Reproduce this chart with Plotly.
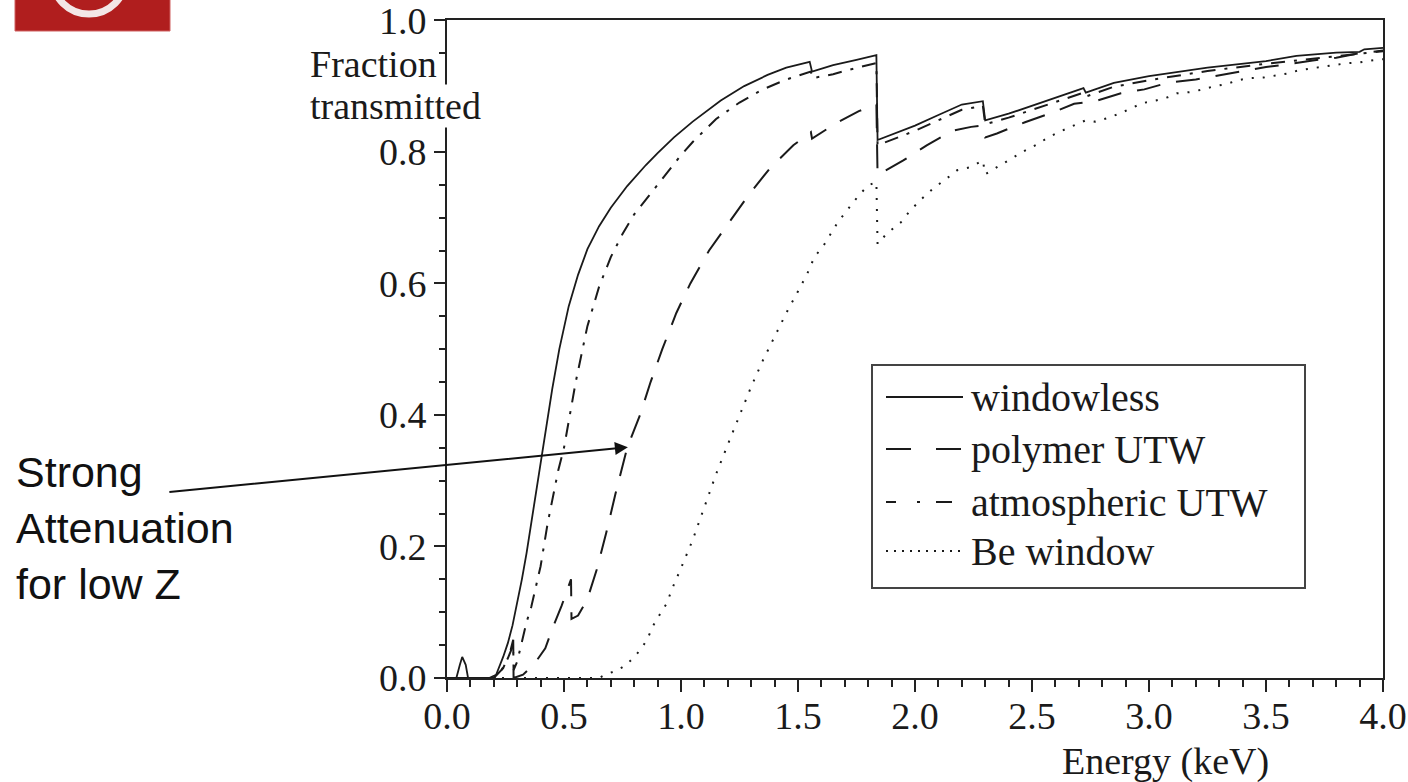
import plotly.graph_objects as go

# ---------------- data ----------------
wl_E = [0.0, 0.04, 0.055, 0.065, 0.08, 0.09, 0.18, 0.21, 0.24, 0.26, 0.28, 0.30, 0.32, 0.34, 0.36,
        0.38, 0.40, 0.42, 0.45, 0.48, 0.52, 0.56, 0.60, 0.65, 0.70, 0.77, 0.85, 0.90, 0.97, 1.05,
        1.17, 1.27, 1.37, 1.45, 1.55, 1.56, 1.65, 1.75, 1.835, 1.84, 1.90, 2.00, 2.10, 2.20, 2.29,
        2.30, 2.40, 2.50, 2.60, 2.72, 2.73, 2.85, 3.00, 3.25, 3.50, 3.63, 3.80, 3.90, 3.92, 4.00]
wl_T = [0.0, 0.0, 0.02, 0.032, 0.02, 0.0, 0.0, 0.005, 0.032, 0.053, 0.08, 0.113, 0.15, 0.19, 0.235,
        0.28, 0.33, 0.37, 0.44, 0.50, 0.565, 0.613, 0.652, 0.687, 0.715, 0.748, 0.78, 0.798, 0.822, 0.846,
        0.878, 0.900, 0.917, 0.928, 0.937, 0.922, 0.932, 0.94, 0.947, 0.818, 0.826, 0.840, 0.856, 0.872, 0.877,
        0.848, 0.858, 0.870, 0.882, 0.897, 0.89, 0.905, 0.915, 0.928, 0.938, 0.946, 0.951, 0.952, 0.956, 0.958]

po_E = [0.0, 0.20, 0.24, 0.27, 0.283, 0.2845, 0.325, 0.37, 0.42, 0.45, 0.49, 0.53, 0.532, 0.56, 0.60,
        0.64, 0.68, 0.72, 0.77, 0.825, 0.87, 0.92, 0.98, 1.04, 1.12, 1.22, 1.29, 1.38, 1.48, 1.555,
        1.56, 1.66, 1.76, 1.835, 1.84, 1.95, 2.05, 2.16, 2.24, 2.29, 2.30, 2.35, 2.47, 2.59, 2.68,
        2.77, 2.88, 2.98, 3.08, 3.20, 3.29, 3.38, 3.50, 3.59, 3.70, 3.80, 3.90, 4.00]
po_T = [0.0, 0.0, 0.015, 0.04, 0.058, 0.0, 0.005, 0.02, 0.045, 0.075, 0.11, 0.15, 0.09, 0.095, 0.12,
        0.165, 0.22, 0.28, 0.35, 0.40, 0.45, 0.50, 0.555, 0.60, 0.65, 0.70, 0.735, 0.775, 0.81, 0.83,
        0.82, 0.843, 0.862, 0.872, 0.765, 0.787, 0.81, 0.832, 0.838, 0.84, 0.822, 0.828, 0.845, 0.86, 0.873,
        0.877, 0.889, 0.895, 0.905, 0.91, 0.916, 0.921, 0.929, 0.933, 0.939, 0.943, 0.95, 0.954]

at_E = [0.0, 0.20, 0.23, 0.26, 0.283, 0.2845, 0.30, 0.32, 0.34, 0.36, 0.38, 0.40, 0.43, 0.475, 0.50,
        0.55, 0.60, 0.65, 0.70, 0.75, 0.80, 0.90, 1.00, 1.05, 1.15, 1.25, 1.35, 1.45, 1.555, 1.56,
        1.65, 1.72, 1.835, 1.84, 1.90, 2.00, 2.10, 2.20, 2.29, 2.30, 2.40, 2.50, 2.60, 2.72, 2.73,
        2.85, 3.00, 3.25, 3.50, 3.75, 4.00]
at_T = [0.0, 0.0, 0.01, 0.03, 0.05, 0.012, 0.025, 0.055, 0.085, 0.108, 0.14, 0.17, 0.235, 0.315, 0.35,
        0.45, 0.535, 0.595, 0.64, 0.675, 0.705, 0.75, 0.795, 0.815, 0.85, 0.875, 0.895, 0.91, 0.922, 0.912,
        0.918, 0.925, 0.935, 0.81, 0.818, 0.832, 0.848, 0.864, 0.870, 0.842, 0.852, 0.864, 0.876, 0.89, 0.884,
        0.899, 0.909, 0.923, 0.934, 0.944, 0.953]

be_E = [0.0, 0.65, 0.675, 0.73, 0.77, 0.82, 0.855, 0.88, 0.91, 0.94, 0.96, 0.98, 1.00, 1.05, 1.10,
        1.15, 1.20, 1.25, 1.30, 1.35, 1.40, 1.45, 1.50, 1.54, 1.57, 1.61, 1.67, 1.71, 1.76, 1.80,
        1.835, 1.84, 1.88, 1.94, 1.98, 2.03, 2.08, 2.13, 2.18, 2.24, 2.29, 2.30, 2.36, 2.41, 2.47,
        2.52, 2.57, 2.62, 2.68, 2.73, 2.77, 2.82, 2.88, 2.92, 2.97, 3.03, 3.08, 3.12, 3.18, 3.23,
        3.28, 3.33, 3.38, 3.43, 3.49, 3.54, 3.59, 3.64, 3.69, 3.74, 3.79, 3.85, 3.90, 3.95, 4.00]
be_T = [0.0, 0.0, 0.005, 0.012, 0.021, 0.04, 0.058, 0.079, 0.097, 0.114, 0.134, 0.15, 0.167, 0.21, 0.26,
        0.31, 0.355, 0.40, 0.443, 0.483, 0.52, 0.555, 0.588, 0.615, 0.64, 0.658, 0.693, 0.711, 0.734, 0.749,
        0.754, 0.66, 0.676, 0.693, 0.711, 0.729, 0.745, 0.758, 0.772, 0.777, 0.787, 0.766, 0.779, 0.79, 0.802,
        0.811, 0.822, 0.831, 0.84, 0.848, 0.846, 0.851, 0.859, 0.866, 0.874, 0.878, 0.883, 0.889, 0.891, 0.895,
        0.90, 0.903, 0.909, 0.912, 0.913, 0.916, 0.919, 0.924, 0.927, 0.929, 0.932, 0.935, 0.936, 0.939, 0.941]

series_names = ["windowless", "polymer UTW", "atmospheric UTW", "Be window"]
x_ticks = [0.0, 0.5, 1.0, 1.5, 2.0, 2.5, 3.0, 3.5, 4.0]
y_ticks = [0.0, 0.2, 0.4, 0.6, 0.8, 1.0]

SERIF = "Liberation Serif, Times New Roman, serif"
SANS = "Liberation Sans, Arial, sans-serif"
INK = "#1a1a1a"

styles = [
    dict(dash="solid", width=1.8),
    dict(dash="24px,16px", width=2),
    dict(dash="14px,9px,3px,9px", width=2),
    dict(dash="2px,9px", width=2),
]
legend_dashes = ["solid", "25px,25px", "10px,21px,3px,16px,16px,40px", "2px,6px"]

fig = go.Figure()
for name, xs, ys, st in zip(series_names, [wl_E, po_E, at_E, be_E], [wl_T, po_T, at_T, be_T], styles):
    fig.add_trace(go.Scatter(x=xs, y=ys, mode="lines", name=name, showlegend=False,
                             line=dict(color=INK, width=st["width"], dash=st["dash"])))

axis_common = dict(showgrid=False, zeroline=False, showline=True, linecolor="#222", linewidth=2,
                   mirror=True, ticks="outside", tickcolor="#222", tickwidth=2, automargin=False,
                   ticklabeloverflow="allow",
                   tickfont=dict(family=SERIF, size=38, color=INK))

fig.update_xaxes(range=[0, 4], tickvals=x_ticks, tickformat=".1f", ticklen=12, ticklabelstandoff=-9,
                 minor=dict(dtick=0.1, ticklen=7, ticks="outside", tickcolor="#222", tickwidth=2),
                 **axis_common)
fig.update_yaxes(range=[0, 1.0005], tickvals=y_ticks, tickformat=".1f", ticklen=11,
                 minor=dict(dtick=0.05, ticklen=6, ticks="outside", tickcolor="#222", tickwidth=2),
                 **axis_common)

L, R, T, B = 447, 25, 20, 104
W, H = 1408, 782
pw, ph = W - L - R, H - T - B


def px(x):
    return (x - L) / pw


def py(y):
    return (H - B - y) / ph


annotations = [
    dict(text="Fraction", xref="paper", yref="paper", x=px(309), y=py(64), xanchor="left", yanchor="middle",
         showarrow=False, font=dict(family=SERIF, size=38, color=INK), bgcolor="white", borderpad=0),
    dict(text="transmitted", xref="paper", yref="paper", x=px(309), y=py(106), xanchor="left", yanchor="middle",
         showarrow=False, font=dict(family=SERIF, size=38, color=INK), bgcolor="white", borderpad=0),
    dict(text="Energy (keV)", xref="paper", yref="paper", x=px(1165), y=py(761), xanchor="center", yanchor="middle",
         showarrow=False, font=dict(family=SERIF, size=38, color=INK)),
    dict(text="Strong<br>Attenuation<br>for low Z", xref="paper", yref="paper", x=px(14), y=py(528),
         xanchor="left", yanchor="middle", align="left", showarrow=False,
         font=dict(family=SANS, size=43, color="#111")),
    dict(text="", x=0.773, y=0.351, xref="x", yref="y", ax=-460, ay=45, axref="pixel", ayref="pixel",
         showarrow=True, arrowhead=2, arrowsize=1.3, arrowwidth=2, arrowcolor="#111"),
]

# hand-drawn legend box, as in the reference
leg_rows_y = [397, 449, 502, 551]
shapes = [
    dict(type="rect", xref="paper", yref="paper", x0=px(15), x1=px(170), y0=py(31), y1=py(-2),
         fillcolor="#B01E1E", line=dict(color="#D06060", width=1), layer="above"),
    dict(type="circle", xref="paper", yref="paper", x0=px(52), x1=px(126), y0=py(14), y1=py(-60),
         fillcolor="rgba(0,0,0,0)", line=dict(color="#F3E6E6", width=7), layer="above"),
    dict(type="rect", xref="paper", yref="paper", x0=px(872), x1=px(1305), y0=py(588), y1=py(365),
         fillcolor="white", line=dict(color="#444", width=2), layer="above"),
]
for name, st, ld, yy in zip(series_names, styles, legend_dashes, leg_rows_y):
    shapes.append(dict(type="line", xref="paper", yref="paper", x0=px(886), x1=px(963), y0=py(yy), y1=py(yy),
                       line=dict(color=INK, width=st["width"], dash=ld), layer="above"))
    annotations.append(dict(text=name, xref="paper", yref="paper", x=px(969), y=py(yy), xanchor="left",
                            yanchor="middle", showarrow=False, font=dict(family=SERIF, size=40, color=INK)))

fig.update_layout(
    width=W, height=H,
    margin=dict(l=L, r=R, t=T, b=B, pad=0),
    paper_bgcolor="white", plot_bgcolor="white",
    showlegend=False,
    annotations=annotations,
    shapes=shapes,
)

fig.write_html("out.html")
